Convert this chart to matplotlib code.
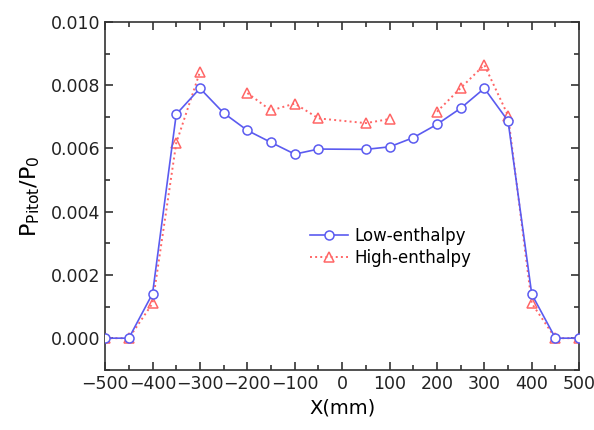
import matplotlib
matplotlib.use('Agg')
import matplotlib.pyplot as plt
import numpy as np
from matplotlib.ticker import MultipleLocator

plt.rcParams['font.family'] = ['DejaVu Sans']

# ─── Data ─────────────────────────────────────────────────────────────────────
x_low = [-500, -450, -400, -350, -300, -250, -200, -150, -100, -50,
         50, 100, 150, 200, 250, 300, 350, 400, 450, 500]
p_low = [0.0, 0.0, 0.00141, 0.00708, 0.00790, 0.00712, 0.00657, 0.00619,
         0.00582, 0.00598, 0.00597, 0.00605, 0.00634, 0.00676, 0.00727,
         0.00790, 0.00687, 0.00139, 0.0, 0.0]

# gaps (nan) where the dotted line is interrupted
x_high = [-500, -450, -400, -350, -300, -250, -200, -150, -100, -50,
          50, 100, 150, 200, 250, 300, 350, 400, 450, 500]
p_high = [0.0, 0.0, 0.00110, 0.00617, 0.00842, np.nan, 0.00775, 0.00720,
          0.00742, 0.00695, 0.00680, 0.00693, np.nan, 0.00716, 0.00791,
          0.00864, 0.00704, 0.00110, 0.0, 0.0]

C_LOW = "#5b5bf0"
C_HIGH = "#ff6666"

fig = plt.figure(figsize=(5.94, 4.30), dpi=100)
ax = fig.add_axes([0.177, 0.140, 0.798, 0.809])

ax.plot(x_low, p_low, '-', color=C_LOW, lw=1.2, marker='o', ms=6.5,
        mfc='white', mec=C_LOW, mew=1.1, label='Low-enthalpy', zorder=3)
ax.plot(x_high, p_high, ':', color=C_HIGH, lw=1.4, marker='^', ms=7,
        mfc='none', mec=C_HIGH, mew=1.1, label='High-enthalpy', zorder=2)

ax.set_xlim(-500, 500)
ax.set_ylim(-0.001, 0.010)
ax.xaxis.set_major_locator(MultipleLocator(100))
ax.xaxis.set_minor_locator(MultipleLocator(50))
ax.yaxis.set_major_locator(MultipleLocator(0.002))
ax.yaxis.set_minor_locator(MultipleLocator(0.001))
ax.yaxis.set_major_formatter(matplotlib.ticker.FormatStrFormatter('%.3f'))
ax.tick_params(which='both', direction='in', top=True, right=True,
               labelsize=12.5, colors='#222222')
ax.tick_params(which='major', length=6, width=1.1)
ax.tick_params(which='minor', length=3.5, width=1.1)
for s in ax.spines.values():
    s.set_linewidth(1.2)
    s.set_color('#333333')

ax.set_xlabel('X(mm)', fontsize=14, labelpad=4)
ax.set_ylabel(r'P$_{\mathregular{Pitot}}$/P$_{\mathregular{0}}$', fontsize=16, labelpad=6)

ax.legend(loc='upper left', bbox_to_anchor=(0.40, 0.455), frameon=False,
          fontsize=12, handlelength=2.3, handletextpad=0.4, labelspacing=0.25)

fig.savefig('out.png', dpi=100)
